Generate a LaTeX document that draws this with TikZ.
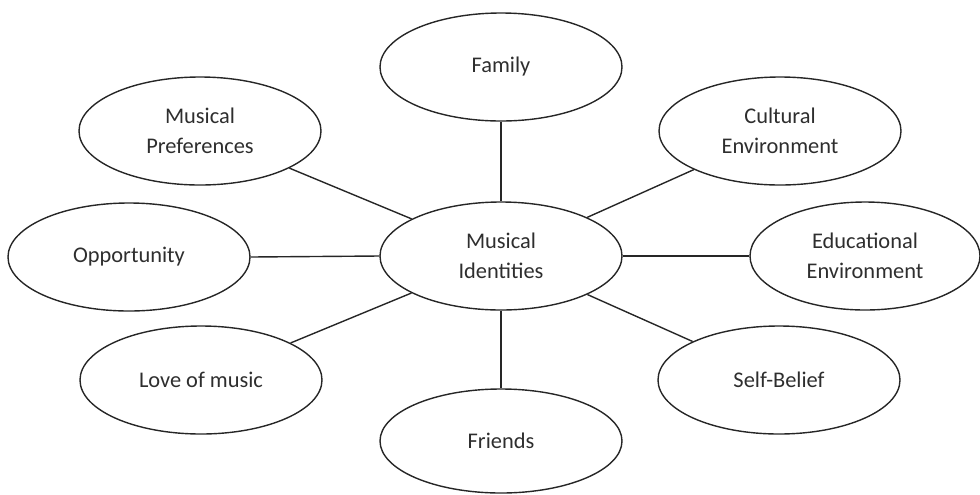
\documentclass[tikz,border=0pt]{standalone}
\usepackage{fontspec}
\setmainfont{Carlito}
\usetikzlibrary{shapes.geometric}
\definecolor{inkgray}{HTML}{2E2E2E}

\begin{document}
\begin{tikzpicture}[x=0.5pt, y=-0.5pt,
    bubble/.style={draw=black!85, line width=0.7pt, ellipse, inner sep=0pt,
        minimum width=121pt, minimum height=54pt, align=center,
        text=inkgray, font=\fontsize{11.2}{15}\selectfont},
    spoke/.style={draw=black!85, line width=0.7pt}]
			%%%%% START %%%%%
			\useasboundingbox (0, 0) rectangle (980, 494);
			
			\node[bubble] (ident) at (501, 256) {Musical\\Identities};
			
			\node[bubble] (family) at (501, 67) {Family};
			\node[bubble] (prefs) at (200, 131) {Musical\\Preferences};
			\node[bubble] (cultural) at (780, 131) {Cultural\\Environment};
			\node[bubble] (opport) at (129, 257) {Opportunity};
			\node[bubble, minimum width=115pt] (educ) at (865, 256) {Educational\\Environment};
			\node[bubble] (love) at (201, 380) {Love of music};
			\node[bubble] (selfb) at (779, 380) {Self-Belief};
			\node[bubble, minimum height=52pt] (friends) at (501, 441) {Friends};
			
			\draw[spoke] (family.south) -- (ident.north);
			\draw[spoke] (prefs) -- (ident);
			\draw[spoke] (cultural) -- (ident);
			\draw[spoke] (opport.east) -- (ident.west);
			\draw[spoke] (ident.east) -- (educ.west);
			\draw[spoke] (love) -- (ident);
			\draw[spoke] (selfb) -- (ident);
			\draw[spoke] (ident.south) -- (friends.north);
			
			%%%%% END %%%%%
\end{tikzpicture}
\end{document}
